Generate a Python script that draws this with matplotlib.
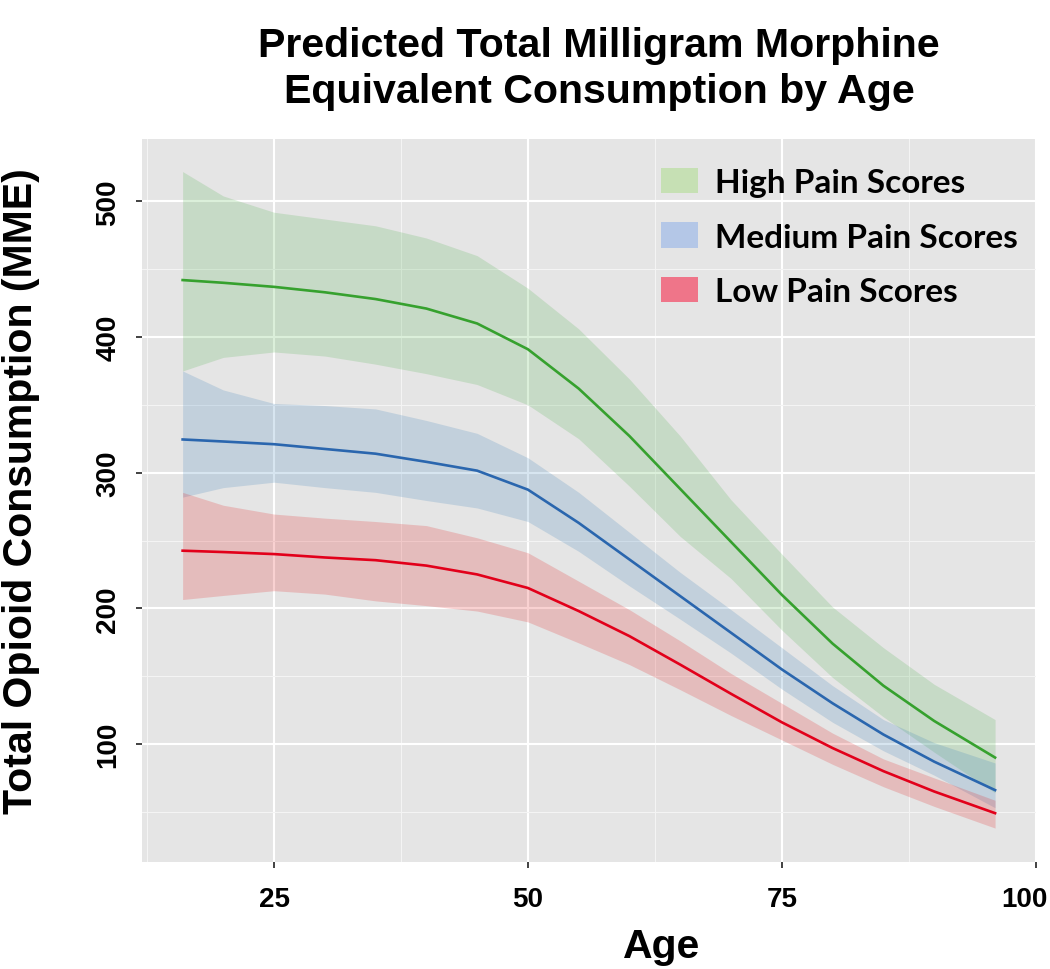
import matplotlib
matplotlib.use("Agg")
import matplotlib.pyplot as plt
import matplotlib.transforms as mtransforms
from matplotlib.patches import Patch
from matplotlib.ticker import FixedLocator

# ---------------- data ----------------
age = [16, 20, 25, 30, 35, 40, 45, 50, 55, 60, 65, 70, 75, 80, 85, 90, 96]

high_fit = [442, 440, 437, 433, 428, 421, 410, 391, 362, 327, 288, 249, 210, 174, 143, 117, 90]
high_upper = [522, 504, 492, 487, 482, 473, 460, 436, 406, 369, 327, 280, 240, 201, 171, 144, 118]
high_lower = [375, 385, 389, 386, 380, 373, 365, 350, 325, 290, 253, 222, 184, 149, 120, 94, 64]

med_fit = [324.5, 323, 321, 317.5, 314, 308, 301.5, 287.5, 263, 236, 209, 182, 155, 130, 107, 87, 66]
med_upper = [375, 361, 351, 349.5, 347, 338.5, 329, 311, 285.5, 256, 226.5, 199, 171, 143, 118, 101, 86]
med_lower = [282, 289, 293, 289, 285.5, 279.5, 274, 264, 242, 216.5, 192, 167, 140.5, 116, 95, 77, 53]

low_fit = [242.5, 241.5, 240, 237.5, 235.5, 231.5, 225, 215, 198, 179.5, 158.5, 137, 116, 97, 80, 65, 49]
low_upper = [285.5, 276, 269.5, 266.5, 264, 261, 252, 241, 220, 199, 176, 152, 130, 108, 89, 75, 58.5]
low_lower = [206.5, 209.5, 213, 210.5, 205.5, 202, 198, 190, 174.5, 158.5, 140, 121, 103, 85, 68.5, 54, 38]

series_labels = ["High Pain Scores", "Medium Pain Scores", "Low Pain Scores"]
x_ticks = [25, 50, 75, 100]
y_ticks = [100, 200, 300, 400, 500]

title_lines = ["Predicted Total Milligram Morphine", "Equivalent Consumption by Age"]
x_title = "Age"
y_title = "Total Opioid Consumption (MME)"

# ---------------- styling ----------------
plt.rcParams["font.family"] = ["Liberation Sans", "DejaVu Sans"]

band_colors = ["#4DAF4A", "#377EB8", "#E41A1C"]
line_colors = ["#36A12E", "#2A66AE", "#E2001A"]
legend_colors = ["#C6E0B4", "#B4C7E7", "#EF7589"]

W, H = 1050, 970
fig = plt.figure(figsize=(W / 100, H / 100), dpi=100)
ax = fig.add_axes([142 / W, 1 - 863 / H, (1035.7 - 142) / W, (863 - 140) / H])
ax.set_facecolor("#E5E5E5")

fits = [high_fit, med_fit, low_fit]
uppers = [high_upper, med_upper, low_upper]
lowers = [high_lower, med_lower, low_lower]

for up, lo, bc in zip(uppers, lowers, band_colors):
    ax.fill_between(age, lo, up, color=bc, alpha=0.2, linewidth=0, zorder=2)
for fit, lc in zip(fits, line_colors):
    ax.plot(age, fit, color=lc, linewidth=1.9, zorder=3, solid_joinstyle="round")

ax.set_xlim(12, 100)
ax.set_ylim(13, 546)
ax.xaxis.set_major_locator(FixedLocator(x_ticks))
ax.yaxis.set_major_locator(FixedLocator(y_ticks))
ax.xaxis.set_minor_locator(FixedLocator([12.5, 37.5, 62.5, 87.5]))
ax.yaxis.set_minor_locator(FixedLocator([50, 150, 250, 350, 450]))

ax.grid(which="major", color="white", linewidth=1.5, zorder=1)
ax.grid(which="minor", color="#F4F4F4", linewidth=0.8, zorder=1)
ax.set_axisbelow(True)
for s in ax.spines.values():
    s.set_visible(False)

ax.tick_params(which="major", length=4, width=1.3, color="#333333", labelsize=20)
ax.tick_params(axis="x", which="major", pad=13)
ax.tick_params(axis="y", which="major", pad=10.8)
ax.tick_params(which="minor", length=0)
for lab in ax.get_xticklabels():
    lab.set_fontweight("bold")
for lab in ax.get_yticklabels():
    lab.set_fontweight("bold")
    lab.set_rotation(90)
    lab.set_va("center")

ax.set_xlabel(x_title, fontsize=29.5, fontweight="bold")
ax.xaxis.set_label_coords(0.581, -0.09)
ax.set_ylabel(y_title, fontsize=29.5, fontweight="bold")
ax.yaxis.set_label_coords(-0.114, 0.5145)

handles = [Patch(facecolor=c, edgecolor="none") for c in legend_colors]
leg = ax.legend(handles, series_labels, loc="upper left",
                bbox_to_anchor=(0.581, 0.96), frameon=False, borderpad=0,
                borderaxespad=0, handlelength=1.1, handleheight=0.8,
                handletextpad=0.5, labelspacing=0.75,
                prop={"family": "Lato", "weight": "bold", "size": 24})

fig.text(599 / W, 1 - 57 / H, title_lines[0], ha="center", va="baseline",
         fontsize=29.6, fontweight="bold")
fig.text(599 / W, 1 - 103 / H, title_lines[1], ha="center", va="baseline",
         fontsize=29.6, fontweight="bold")

# the right-most tick label sits slightly left of its tick in the reference
last = ax.xaxis.get_major_ticks()[-1].label1
last.set_transform(last.get_transform() +
                   mtransforms.ScaledTranslation(-0.11, 0, fig.dpi_scale_trans))

fig.savefig("out.png", dpi=100)
